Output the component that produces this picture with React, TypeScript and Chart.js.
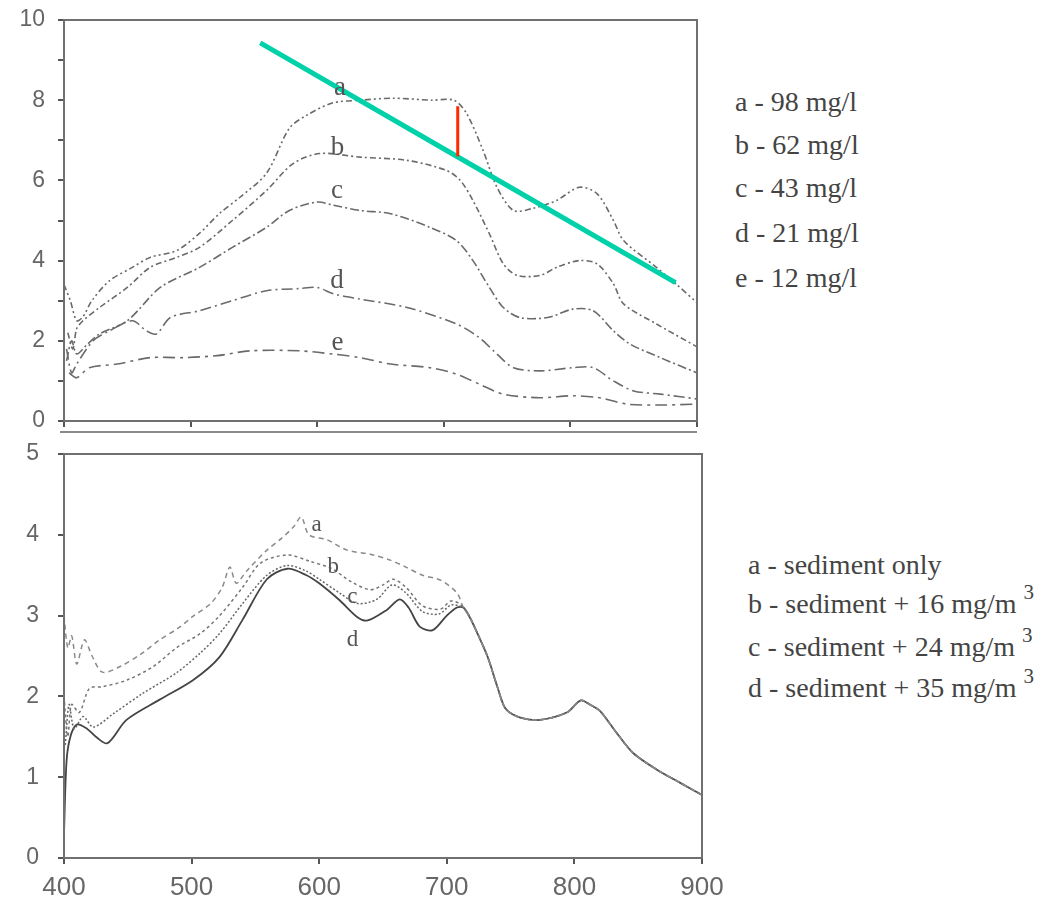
import React, { useEffect, useRef } from 'react';
import { Chart, registerables } from 'chart.js';

Chart.register(...registerables);

type Pt = [number, number];

// ---------- Top panel: reflectance vs wavelength for sediment concentrations ----------
const topCurveA: Pt[] = [[400,3.4],[405,3.0],[410,2.5],[415,2.6],[422,3.0],[436,3.5],[454,3.83],[468,4.08],[489,4.25],[507,4.68],[523,5.18],[539,5.58],[560,6.18],[578,7.3],[592,7.63],[612,7.93],[634,8.0],[660,8.05],[690,8.0],[708,8.0],[718,7.67],[731,6.75],[742,5.83],[755,5.25],[770,5.3],[789,5.5],[807,5.83],[821,5.67],[834,5.0],[842,4.5],[868,3.83],[884,3.4],[900,2.95]];
const topCurveB: Pt[] = [[403,2.2],[407,1.8],[410,2.3],[415,2.5],[428,2.83],[450,3.33],[468,3.83],[489,4.08],[507,4.33],[533,5.0],[560,5.75],[581,6.42],[602,6.67],[634,6.58],[671,6.5],[702,6.25],[713,6.0],[723,5.5],[736,4.67],[747,3.92],[758,3.63],[776,3.63],[789,3.83],[807,4.0],[821,3.92],[834,3.42],[842,2.92],[868,2.42],[900,1.85]];
const topCurveC: Pt[] = [[402,1.5],[406,2.0],[410,1.67],[418,1.9],[428,2.17],[450,2.5],[476,3.33],[507,3.83],[533,4.33],[560,4.83],[578,5.25],[600,5.46],[613,5.38],[634,5.25],[658,5.17],[689,4.83],[710,4.5],[723,4.0],[736,3.33],[747,2.83],[760,2.58],[782,2.58],[802,2.79],[818,2.75],[834,2.25],[847,1.92],[871,1.58],[900,1.2]];
const topCurveD: Pt[] = [[402,1.8],[406,1.2],[410,1.42],[423,2.0],[436,2.25],[454,2.5],[465,2.25],[473,2.17],[484,2.58],[507,2.75],[533,3.0],[560,3.25],[585,3.3],[600,3.33],[613,3.17],[634,3.04],[671,2.83],[710,2.42],[728,2.08],[742,1.67],[755,1.33],[776,1.25],[802,1.33],[818,1.33],[834,1.0],[850,0.75],[871,0.67],[900,0.55]];
const topCurveE: Pt[] = [[404,1.2],[410,1.08],[420,1.33],[442,1.42],[468,1.58],[494,1.58],[521,1.63],[547,1.75],[586,1.75],[612,1.67],[634,1.58],[658,1.42],[689,1.33],[710,1.17],[728,0.92],[747,0.67],[776,0.58],[802,0.63],[823,0.58],[845,0.42],[873,0.4],[900,0.42]];
const greenTrend: Pt[] = [[555,9.43],[883,3.45]];
const redMarker: Pt[] = [[711,7.85],[711,6.6]];
const topCurveNames = ['a','b','c','d','e'];
const topLabelAnchors: Pt[] = [[618,8.3],[616,6.8],[615.6,5.75],[615.6,3.5],[616,1.95]];
const topLegend = ['a - 98 mg/l','b - 62 mg/l','c - 43 mg/l','d - 21 mg/l','e - 12 mg/l'];

// ---------- Bottom panel: sediment plus chlorophyll ----------
const bottomTail: Pt[] = [[713,3.1],[718,2.98],[724,2.78],[732,2.49],[740,2.1],[746,1.85],[757,1.74],[773,1.71],[794,1.8],[805,1.95],[812,1.9],[820,1.82],[833,1.55],[846,1.3],[865,1.09],[883,0.93],[900,0.78]];
const bottomHeadA: Pt[] = [[400,3.0],[403,2.6],[406,2.75],[410,2.4],[416,2.7],[422,2.5],[430,2.3],[444,2.37],[460,2.52],[475,2.7],[490,2.85],[501,2.99],[515,3.15],[524,3.35],[530,3.6],[535,3.4],[543,3.55],[559,3.81],[570,3.95],[580,4.1],[586,4.22],[592,4.0],[606,3.94],[622,3.81],[640,3.76],[655,3.69],[668,3.6],[681,3.5],[695,3.44],[708,3.28]];
const bottomHeadB: Pt[] = [[400,2.0],[403,1.5],[406,1.9],[412,1.8],[420,2.1],[430,2.12],[449,2.2],[470,2.37],[488,2.6],[507,2.78],[522,3.0],[540,3.35],[554,3.65],[575,3.75],[593,3.67],[610,3.58],[625,3.42],[640,3.32],[650,3.38],[658,3.45],[668,3.35],[681,3.12],[695,3.08],[703,3.18],[710,3.15]];
const bottomHeadC: Pt[] = [[401,1.4],[404,1.9],[408,1.6],[415,1.75],[423,1.62],[439,1.79],[462,2.04],[488,2.29],[507,2.54],[522,2.78],[540,3.15],[559,3.5],[575,3.62],[590,3.55],[600,3.45],[616,3.28],[630,3.15],[645,3.2],[657,3.38],[668,3.28],[681,3.05],[694,3.02],[703,3.13],[710,3.12]];
const bottomHeadD: Pt[] = [[400,0.3],[402,1.2],[405,1.5],[410,1.65],[418,1.6],[425,1.5],[434,1.42],[449,1.71],[475,1.96],[501,2.2],[522,2.49],[540,2.95],[559,3.45],[575,3.58],[590,3.5],[600,3.4],[616,3.19],[630,2.98],[638,2.94],[653,3.07],[663,3.2],[670,3.1],[679,2.86],[689,2.82],[700,3.0],[708,3.1]];
const bottomCurveNames = ['a','b','c','d'];
const bottomLabelAnchors: Pt[] = [[598,4.12],[611,3.6],[626,3.23],[626,2.7]];
const bottomLegend = ['a - sediment only','b - sediment + 16 mg/m','c - sediment + 24 mg/m','d - sediment + 35 mg/m'];
const bottomLegendSup = ['', '3', '3', '3'];

const xTickValues = [400, 500, 600, 700, 800, 900];

const toXY = (pts: Pt[]) => pts.map(([x, y]) => ({ x, y }));

const framePlugin = {
  id: 'frame',
  afterDraw(chart: any, _a: any, opts: any) {
    const { ctx, chartArea: a } = chart;
    ctx.save();
    ctx.strokeStyle = opts.color || '#6f6f6f';
    ctx.lineWidth = opts.width || 2;
    ctx.strokeRect(a.left, a.top, a.right - a.left, a.bottom - a.top);
    if (opts.extraBottom) {
      ctx.strokeStyle = '#8a8a8a';
      ctx.beginPath();
      ctx.moveTo(a.left - 4, a.bottom + opts.extraBottom);
      ctx.lineTo(a.right, a.bottom + opts.extraBottom);
      ctx.stroke();
    }
    ctx.restore();
  },
};

const curveLabelPlugin = {
  id: 'curveLabels',
  afterDatasetsDraw(chart: any, _a: any, opts: any) {
    const { ctx, scales } = chart;
    ctx.save();
    ctx.font = opts.font;
    ctx.fillStyle = opts.color;
    ctx.textAlign = 'center';
    ctx.textBaseline = 'middle';
    (opts.names as string[]).forEach((n, i) => {
      const [x, y] = opts.anchors[i];
      ctx.fillText(n, scales.x.getPixelForValue(x), scales.y.getPixelForValue(y));
    });
    ctx.restore();
  },
};

const yTickFont = { family: '"Liberation Sans", Arial, sans-serif', size: 23 };
const xTickFont = { family: '"Liberation Sans", Arial, sans-serif', size: 26 };

function lineDs(data: Pt[], color: string, width: number, dash: number[]) {
  return {
    data: toXY(data),
    borderColor: color,
    borderWidth: width,
    borderDash: dash,
    pointRadius: 0,
    tension: 0.3,
    fill: false,
  };
}

const fixY = (s: any) => { s.width = 64; s.paddingTop = 0; s.paddingBottom = 0; };
const fixX = (h: number) => (s: any) => { s.height = h; s.paddingLeft = 0; s.paddingRight = 0; };

function TopChart() {
  const ref = useRef<HTMLCanvasElement>(null);
  useEffect(() => {
    const chart = new Chart(ref.current as HTMLCanvasElement, {
      type: 'line',
      data: {
        datasets: [
          lineDs(redMarker, '#ff2a00', 3, []),
          lineDs(greenTrend, '#00d1a8', 5, []),
          lineDs(topCurveA, '#6a6a6a', 1.6, [6, 3, 2, 3, 2, 3]),
          lineDs(topCurveB, '#6a6a6a', 1.6, [6, 3, 2, 3]),
          lineDs(topCurveC, '#6a6a6a', 1.6, [9, 3, 2, 3]),
          lineDs(topCurveD, '#6a6a6a', 1.6, [11, 4, 2, 4]),
          lineDs(topCurveE, '#6a6a6a', 1.6, [12, 5, 3, 5]),
        ] as any,
      },
      options: {
        animation: false,
        responsive: false,
        devicePixelRatio: 1,
        layout: { padding: { left: 0, right: 23, top: 20, bottom: 0 } },
        plugins: {
          legend: { display: false },
          tooltip: { enabled: false },
          frame: { color: '#707070', width: 2, extraBottom: 11 },
          curveLabels: { names: topCurveNames, anchors: topLabelAnchors, font: '27px "Liberation Serif", serif', color: '#555' },
        } as any,
        scales: {
          x: {
            type: 'linear', min: 400, max: 900,
            afterBuildTicks: (s: any) => { s.ticks = xTickValues.map((v) => ({ value: v })); },
            afterFit: fixX(19),
            ticks: { callback: () => '', font: xTickFont },
            grid: { drawOnChartArea: false, drawTicks: true, tickLength: 6, color: '#555', lineWidth: 2 },
            border: { display: false },
          },
          y: {
            type: 'linear', min: 0, max: 10,
            afterFit: fixY,
            ticks: { stepSize: 1, padding: 13, color: '#666', font: yTickFont, callback: (v: any) => (Number(v) % 2 === 0 ? String(v) : '') },
            grid: { drawOnChartArea: false, drawTicks: true, tickLength: 6, color: '#555', lineWidth: 2 },
            border: { display: false },
          },
        },
      },
      plugins: [framePlugin, curveLabelPlugin],
    });
    return () => chart.destroy();
  }, []);
  return <canvas ref={ref} width={720} height={440} style={{ position: 'absolute', left: 0, top: 0 }} />;
}

function BottomChart() {
  const ref = useRef<HTMLCanvasElement>(null);
  useEffect(() => {
    const chart = new Chart(ref.current as HTMLCanvasElement, {
      type: 'line',
      data: {
        datasets: [
          lineDs(bottomHeadA.concat(bottomTail), '#8a8a8a', 1.5, [5, 4]),
          lineDs(bottomHeadB.concat(bottomTail), '#777', 1.5, [3, 3]),
          lineDs(bottomHeadC.concat(bottomTail), '#666', 1.5, [2, 2]),
          lineDs(bottomHeadD.concat(bottomTail), '#444', 1.8, []),
        ] as any,
      },
      options: {
        animation: false,
        responsive: false,
        devicePixelRatio: 1,
        layout: { padding: { left: 0, right: 38, top: 14, bottom: 0 } },
        plugins: {
          legend: { display: false },
          tooltip: { enabled: false },
          frame: { color: '#707070', width: 2 },
          curveLabels: { names: bottomCurveNames, anchors: bottomLabelAnchors, font: '23px "Liberation Serif", serif', color: '#555' },
        } as any,
        scales: {
          x: {
            type: 'linear', min: 400, max: 900,
            afterBuildTicks: (s: any) => { s.ticks = xTickValues.map((v) => ({ value: v })); },
            afterFit: fixX(45),
            ticks: { padding: 8, color: '#666', font: xTickFont, maxRotation: 0 },
            grid: { drawOnChartArea: false, drawTicks: true, tickLength: 6, color: '#555', lineWidth: 2 },
            border: { display: false },
          },
          y: {
            type: 'linear', min: 0, max: 5,
            afterFit: fixY,
            ticks: { stepSize: 1, padding: 19, color: '#666', font: yTickFont },
            grid: { drawOnChartArea: false, drawTicks: true, tickLength: 6, color: '#555', lineWidth: 2 },
            border: { display: false },
          },
        },
      },
      plugins: [framePlugin, curveLabelPlugin],
    });
    return () => chart.destroy();
  }, []);
  return <canvas ref={ref} width={740} height={463} style={{ position: 'absolute', left: 0, top: 440 }} />;
}

const legendFont: React.CSSProperties = {
  position: 'absolute',
  fontFamily: '"Liberation Serif", "Times New Roman", serif',
  fontSize: 28,
  lineHeight: '32px',
  color: '#444',
  whiteSpace: 'nowrap',
};

export default function App() {
  const topCenters = [102, 145, 188, 233, 278];
  const bottomCenters = [565, 604, 647, 688];
  return (
    <div style={{ position: 'absolute', left: 0, top: 0, width: 1057, height: 903, background: '#fff', overflow: 'hidden' }}>
      <TopChart />
      <BottomChart />
      {topLegend.map((t, i) => (
        <div key={'t' + i} style={{ ...legendFont, left: 735, top: topCenters[i] - 16 }}>{t}</div>
      ))}
      {bottomLegend.map((t, i) => (
        <div key={'b' + i} style={{ ...legendFont, left: 748, top: bottomCenters[i] - 16 }}>
          {t}
          {bottomLegendSup[i] ? (
            <span style={{ position: 'relative', top: -14, marginLeft: 7, fontSize: 21 }}>{bottomLegendSup[i]}</span>
          ) : null}
        </div>
      ))}
    </div>
  );
}
